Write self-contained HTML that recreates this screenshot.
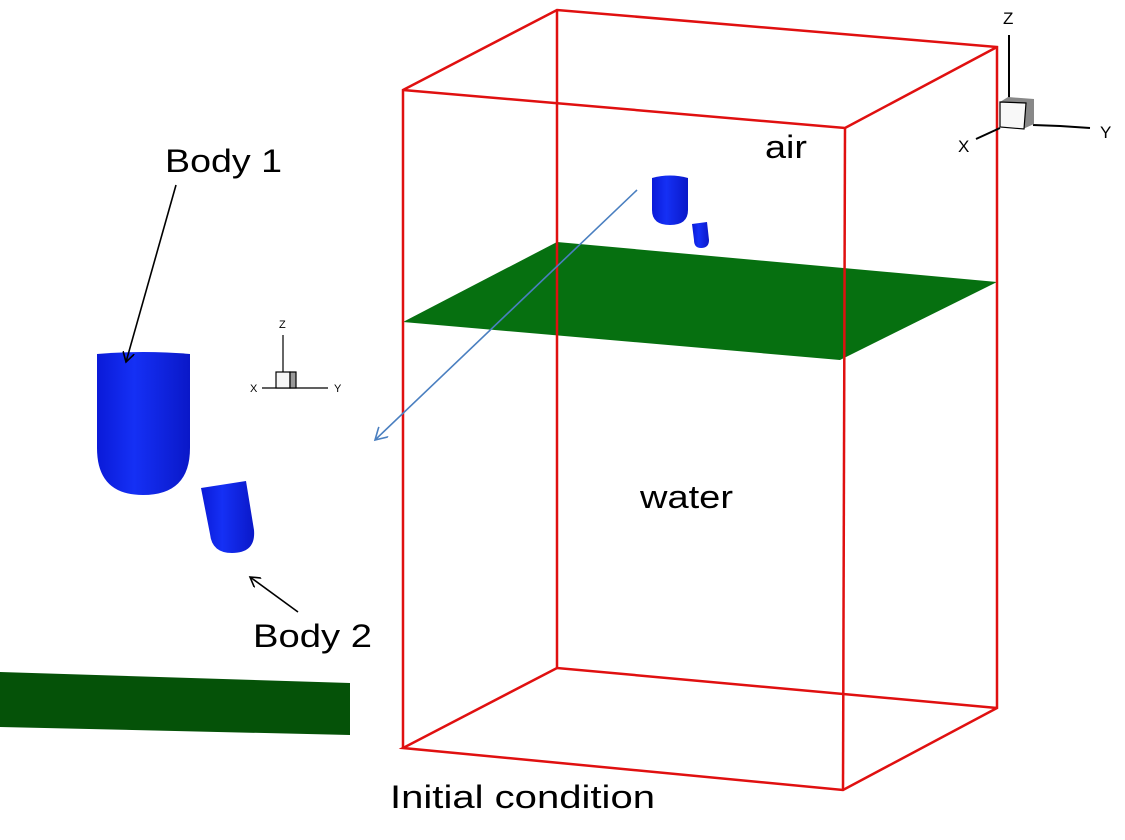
<!DOCTYPE html>
<html><head><style>body{margin:0;background:#fff}svg{display:block}text{font-family:"Liberation Sans","Noto Sans CJK KR",sans-serif}</style></head>
<body>
<svg width="1125" height="840" viewBox="0 0 1125 840" xmlns="http://www.w3.org/2000/svg">
<defs>
<linearGradient id="bg" x1="0" x2="1"><stop offset="0" stop-color="#0a1ad8"/><stop offset="0.4" stop-color="#1530f5"/><stop offset="1" stop-color="#0a18c8"/></linearGradient>
<marker id="ab" markerWidth="12" markerHeight="12" refX="10" refY="6" orient="auto" markerUnits="userSpaceOnUse"><path d="M0,0 L10,6 L0,12" fill="none" stroke="#000" stroke-width="1.6"/></marker>
<marker id="ablue" markerWidth="14" markerHeight="14" refX="12" refY="7" orient="auto" markerUnits="userSpaceOnUse"><path d="M0,0 L12,7 L0,14" fill="none" stroke="#4a7fc0" stroke-width="1.6"/></marker>
</defs>
<polygon points="403,322 557,242 997,282 840,360" fill="#067010"/>
<g stroke="#e01010" stroke-width="2.5" fill="none">
<polyline points="403,748 403,90 557,10 997,47 997,708 843,790 403,748 557,668 997,708"/>
<polyline points="403,90 845,128 997,47"/>
<line x1="845" y1="128" x2="843" y2="790"/>
<line x1="557" y1="10" x2="557" y2="668"/>
</g>
<path d="M652,178 Q670,173 688,178 L688,210 Q688,225 670,225 Q652,225 652,210 Z" fill="url(#bg)"/>
<path d="M692,224 L707,222 L709,240 Q709,248 701,248 Q694,248 694,240 Z" fill="url(#bg)"/>
<line x1="637" y1="190" x2="375" y2="440" stroke="#4a7fc0" stroke-width="1.6" marker-end="url(#ablue)"/>
<path d="M97,354 Q143,350 190,354 L190,448 Q190,495 143,495 Q97,495 97,448 Z" fill="url(#bg)"/>
<path d="M201,488 L246,481 L254,530 Q256,553 232,553 Q212,553 210,534 Z" fill="url(#bg)"/>
<polygon points="0,672 350,683 350,735 0,727" fill="#055208"/>
<g stroke="#000" stroke-width="1.2" fill="none">
<line x1="283" y1="335" x2="283" y2="372"/>
<line x1="262" y1="388" x2="328" y2="388"/>
<rect x="276" y="372" width="14" height="16" fill="#f6f6f6"/>
<rect x="290" y="372" width="6" height="16" fill="#999"/>
</g>
<text x="279" y="328" font-size="11">Z</text>
<text x="250" y="392" font-size="11">X</text>
<text x="334" y="392" font-size="11">Y</text>
<g stroke="#000" stroke-width="2" fill="none">
<line x1="1009" y1="35" x2="1009" y2="98"/>
<polyline points="1033,125 1060,126 1090,128"/>
<line x1="1000" y1="128" x2="976" y2="139"/>
<polygon points="1000,102 1008,97 1034,99 1034,124 1023,129 1000,127" fill="#888" stroke="none"/>
<polygon points="1000,102 1026,103 1024,129 1000,127" fill="#f8f8f8" stroke="#000" stroke-width="1.2"/>
</g>
<text x="1003" y="24" font-size="17">Z</text>
<text x="958" y="152" font-size="17">X</text>
<text x="1100" y="138" font-size="17">Y</text>
<line x1="176" y1="185" x2="126" y2="362" stroke="#000" stroke-width="1.6" marker-end="url(#ab)"/>
<line x1="298" y1="612" x2="250" y2="577" stroke="#000" stroke-width="1.6" marker-end="url(#ab)"/>
<text x="165" y="172" font-size="32" textLength="117" lengthAdjust="spacingAndGlyphs">Body 1</text>
<text x="253" y="647" font-size="32" textLength="119" lengthAdjust="spacingAndGlyphs">Body 2</text>
<text x="765" y="158" font-size="32" textLength="42" lengthAdjust="spacingAndGlyphs">air</text>
<text x="640" y="508" font-size="32" textLength="93" lengthAdjust="spacingAndGlyphs">water</text>
<text x="390" y="808" font-size="32" textLength="265" lengthAdjust="spacingAndGlyphs">Initial condition</text>
</svg>
</body></html>
